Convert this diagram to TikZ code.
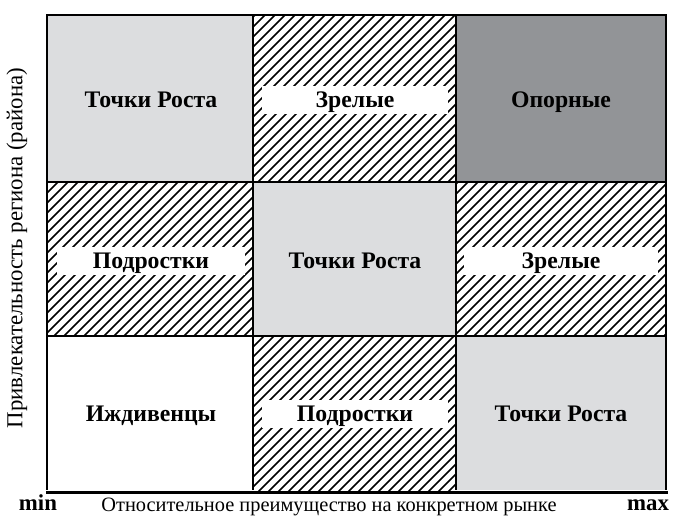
\documentclass[tikz,border=0pt]{standalone}
\usepackage{fontspec}
\setmainfont{Liberation Serif}
\begin{document}
\begin{tikzpicture}[x=0.02cm,y=-0.02cm]
        %colores
        \definecolor{gclaro}{RGB}{220,221,223}
        \definecolor{goscuro}{RGB}{146,148,151}
        \tikzset{etiqueta/.style={font=\bfseries\fontsize{13.5}{15}\selectfont,inner sep=0pt,text height=8.9pt,text depth=0pt},
                 franja/.style={etiqueta,fill=white,minimum height=0.56cm},
                 rayas/.style={line width=0.9pt},
                 borde/.style={line width=1.2pt}}
        \useasboundingbox (0,0) rectangle (695,520);

        % Relleno gris
        \fill[gclaro] (47,15) rectangle (253,182);
        \fill[goscuro] (456,15) rectangle (666,182);
        \fill[gclaro] (253,182) rectangle (456,336);
        \fill[gclaro] (456,336) rectangle (666,490);

        % Celdas rayadas
        \foreach \xa/\ya/\xb/\yb in {253/15/456/182,47/182/253/336,456/182/666/336,253/336/456/490}
        {
            \begin{scope}
                \clip (\xa,\ya) rectangle (\xb,\yb);
                \foreach \s in {-500,-490,...,700}
                \draw[rayas] (\s,500) -- (\s+500,0);
            \end{scope}
        }

        % Rejilla
        \draw[borde] (47,490) -- (47,15) -- (666,15) -- (666,490);
        \draw[borde] (253,15) -- (253,490);
        \draw[borde] (456,15) -- (456,490);
        \draw[borde] (47,182) -- (666,182);
        \draw[borde] (47,336) -- (666,336);
        \draw[line width=1.5pt] (46,492.5) -- (668,492.5);

        % Etiquetas fila superior
        \node[etiqueta] (tr1) at (151,100) {Точки Роста};
        \node[franja,minimum width=3.74cm] (zr1) at (355,100) {Зрелые};
        \node[etiqueta] (op) at (561,100) {Опорные};
        % Etiquetas fila media
        \node[franja,minimum width=3.76cm] (pd1) at (151,261) {Подростки};
        \node[etiqueta] (tr2) at (355,261) {Точки Роста};
        \node[franja,minimum width=3.88cm] (zr2) at (561,261) {Зрелые};
        % Etiquetas fila inferior
        \node[etiqueta] (ij) at (151,414) {Иждивенцы};
        \node[franja,minimum width=3.74cm] (pd2) at (355,414) {Подростки};
        \node[etiqueta] (tr3) at (561,414) {Точки Роста};

        % Ejes
        \node[rotate=90,font=\fontsize{13}{15}\selectfont] (ejey) at (17,248) {Привлекательность региона (района)};
        \node[font=\fontsize{11.6}{14}\selectfont,anchor=base] (ejex) at (329,511) {Относительное преимущество на конкретном рынке};
        \node[font=\bfseries\fontsize{13}{15}\selectfont,anchor=base] (xmin) at (38,510) {min};
        \node[font=\bfseries\fontsize{13}{15}\selectfont,anchor=base] (xmax) at (648,510) {max};
\end{tikzpicture}
\end{document}
